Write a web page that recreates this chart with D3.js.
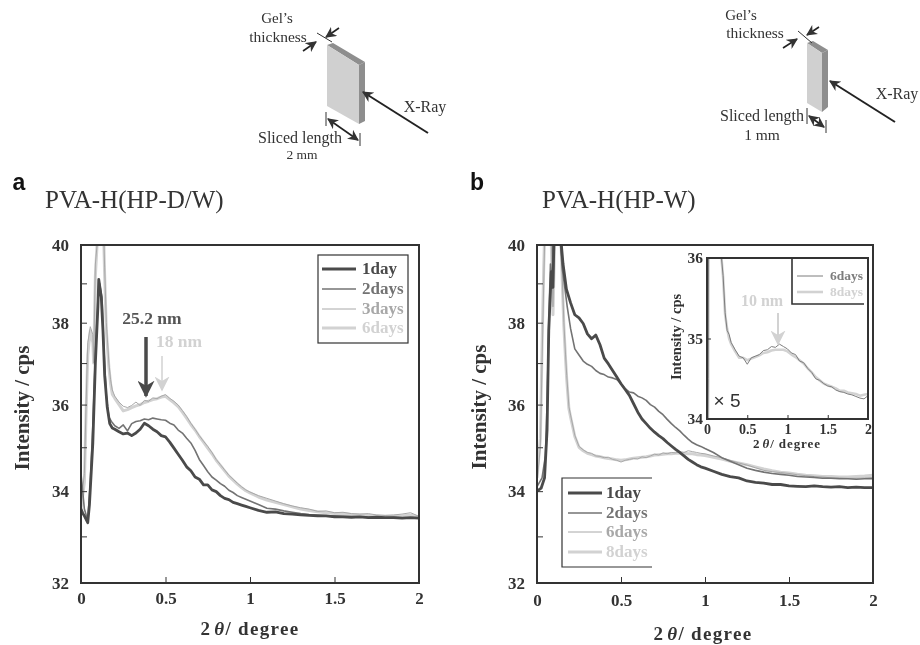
<!DOCTYPE html>
<html lang="en">
  <head>
    <meta charset="utf-8" />
    <title>PVA-H small angle X-ray profiles</title>
    <script src="https://cdnjs.cloudflare.com/ajax/libs/d3/7.8.5/d3.min.js"></script>
    <style type="text/css">
      html, body { margin: 0; background: #fff; }
      svg { display: block; filter: blur(0.45px); }
      text { font-family: "Liberation Serif", serif; }
      text.sans { font-family: "Liberation Sans", sans-serif; }
      .tick text { font-weight: bold; fill: #333; }
      .axis path { display: none; }
      .axis line { stroke: #333; }
      .frame { fill: none; stroke: #333; stroke-width: 2; }
      .curve { fill: none; stroke-linejoin: round; }
    </style>
  </head>

  <body>
    <div id="chart"></div>

    <script>
      // Shared x positions of the slow part of every curve.
      const tailX = [.2, .225, .25, .275, .3, .325, .35, .375, .4, .425, .45, .475, .5, .525, .55, .575, .6, .625, .65, .675, .7, .725, .75, .775, .8, .825, .85, .875, .9, .925, .95, .975, 1,
        1.05, 1.1, 1.15, 1.2, 1.25, 1.3, 1.35, 1.4, 1.45, 1.5, 1.55, 1.6, 1.65, 1.7, 1.75, 1.8, 1.85, 1.9, 1.95, 2];

      // Panel a, values. Head = the spike near zero, above 40 is off the chart.
      const a1dayHeadX = [0, .01, .02, .04, .05, .07, .085, .1, .105, .12, .13, .14, .155, .17, .185];
      const a1dayHeadY = [33.6, 33.51, 33.45, 33.3, 33.7, 35.1, 37, 38.4, 39.1, 38.65, 37.8, 36.7, 35.95, 35.55, 35.45];
      const a1dayTailY = [35.42, 35.36, 35.31, 35.33, 35.27, 35.33, 35.42, 35.56, 35.5, 35.42, 35.36, 35.27, 35.24, 35.12, 34.98, 34.84, 34.7, 34.55, 34.46, 34.32, 34.27, 34.14, 34.14, 34.03, 33.99, 33.9, 33.84, 33.81, 33.75, 33.72, 33.69, 33.66, 33.63,
        33.57, 33.53, 33.54, 33.5, 33.49, 33.47, 33.46, 33.45, 33.45, 33.43, 33.43, 33.42, 33.43, 33.41, 33.42, 33.41, 33.41, 33.4, 33.41, 33.4];

      const a2daysHeadX = [0, .005, .02, .04, .055, .07, .085, .1, .11, .125, .135, .15, .165, .18];
      const a2daysHeadY = [34.4, 34.2, 33.6, 33.35, 34.2, 35.5, 37.2, 38.6, 39, 38.6, 37.4, 36.2, 35.7, 35.6];
      const a2daysTailY = [35.5, 35.44, 35.52, 35.38, 35.55, 35.6, 35.62, 35.66, 35.64, 35.68, 35.66, 35.64, 35.63, 35.56, 35.52, 35.4, 35.33, 35.21, 35.1, 34.93, 34.72, 34.58, 34.44, 34.32, 34.25, 34.17, 34.11, 34.02, 33.97, 33.9, 33.86, 33.82, 33.78,
        33.7, 33.62, 33.6, 33.56, 33.53, 33.5, 33.48, 33.47, 33.45, 33.45, 33.44, 33.43, 33.43, 33.42, 33.42, 33.41, 33.42, 33.41, 33.41, 33.4];

      const a3daysHeadX = [0, .02, .03, .04, .055, .07, .075, .085, .095, .1, .13, .14, .15, .165, .175, .185];
      const a3daysHeadY = [33.7, 34.4, 36, 37.5, 37.9, 37.7, 37, 39.5, 40, 41, 41, 39.4, 38, 37, 36.6, 36.35];
      const a3daysTailY = [36.2, 36.06, 35.96, 35.93, 35.98, 36.06, 35.98, 36.1, 36.08, 36.16, 36.14, 36.2, 36.24, 36.15, 36.08, 35.99, 35.86, 35.72, 35.56, 35.42, 35.27, 35.14, 35.02, 34.88, 34.72, 34.6, 34.48, 34.36, 34.27, 34.18, 34.1, 34.03, 33.98,
        33.9, 33.84, 33.78, 33.72, 33.67, 33.63, 33.6, 33.55, 33.56, 33.52, 33.53, 33.5, 33.49, 33.5, 33.47, 33.46, 33.47, 33.49, 33.52, 33.44];

      const a6daysHeadX = [0, .02, .03, .04, .055, .07, .075, .085, .095, .1, .13, .14, .15, .165, .175, .185];
      const a6daysHeadY = [33.6, 34.2, 35.8, 37.2, 37.8, 37.5, 37, 39.2, 40, 41, 41, 39.2, 37.8, 36.9, 36.5, 36.25];
      const a6daysTailY = [36.15, 36, 35.85, 35.88, 35.93, 35.97, 36, 36.05, 36.08, 36.12, 36.14, 36.18, 36.2, 36.12, 36.04, 35.95, 35.82, 35.68, 35.53, 35.4, 35.25, 35.12, 34.98, 34.85, 34.7, 34.58, 34.46, 34.34, 34.25, 34.16, 34.08, 34.01, 33.96,
        33.87, 33.8, 33.75, 33.7, 33.65, 33.6, 33.57, 33.54, 33.52, 33.5, 33.5, 33.48, 33.47, 33.46, 33.45, 33.44, 33.44, 33.45, 33.47, 33.42];

      // Panel b
      const b1dayHeadX = [0, .025, .045, .06, .07, .085, .095, .105, .13, .145, .155, .175];
      const b1dayHeadY = [34, 34.07, 34.3, 35.4, 37.8, 39.3, 38.9, 41, 41, 40, 39.5, 38.85];
      const b1dayTailY = [38.5, 38.2, 38.12, 37.98, 37.72, 37.6, 37.69, 37.45, 37.12, 36.98, 36.82, 36.66, 36.5, 36.36, 36.22, 36.02, 35.82, 35.66, 35.55, 35.44, 35.35, 35.27, 35.2, 35.11, 35.03, 34.95, 34.88, 34.8, 34.72, 34.66, 34.6, 34.55, 34.52,
        34.45, 34.38, 34.33, 34.3, 34.23, 34.2, 34.18, 34.15, 34.15, 34.12, 34.11, 34.1, 34.12, 34.1, 34.09, 34.1, 34.08, 34.09, 34.08, 34.08];

      const b2daysHeadX = [0, .03, .05, .06, .07, .08, .09, .1, .13, .14, .15, .165, .18];
      const b2daysHeadY = [34.1, 34.3, 34.8, 36, 38, 39.5, 38.9, 41, 41, 40, 39.4, 38.9, 38.4];
      const b2daysTailY = [37.85, 37.35, 37.2, 37.05, 36.97, 36.92, 36.82, 36.75, 36.72, 36.66, 36.64, 36.6, 36.5, 36.38, 36.3, 36.28, 36.2, 36.16, 36.1, 36, 35.94, 35.84, 35.76, 35.65, 35.55, 35.46, 35.38, 35.28, 35.19, 35.11, 35.06, 35.02, 34.97,
        34.88, 34.76, 34.68, 34.6, 34.52, 34.47, 34.43, 34.4, 34.38, 34.36, 34.33, 34.32, 34.31, 34.29, 34.29, 34.28, 34.28, 34.27, 34.28, 34.28];

      const b6daysHeadX = [0, .02, .03, .04, .05, .08, .095, .11, .13, .14, .15, .16, .17, .177, .19];
      const b6daysHeadY = [34.2, 35, 37, 39, 41, 41, 38.4, 41, 41, 40.5, 39.2, 38, 37.2, 36.7, 35.95];
      const b6daysTailY = [35.75, 35.28, 35.02, 34.94, 34.88, 34.86, 34.8, 34.79, 34.76, 34.77, 34.72, 34.7, 34.66, 34.7, 34.72, 34.74, 34.73, 34.78, 34.76, 34.8, 34.84, 34.82, 34.87, 34.85, 34.88, 34.87, 34.9, 34.88, 34.92, 34.9, 34.88, 34.86, 34.85,
        34.8, 34.76, 34.7, 34.64, 34.59, 34.53, 34.47, 34.44, 34.42, 34.4, 34.37, 34.35, 34.33, 34.32, 34.3, 34.3, 34.29, 34.29, 34.3, 34.31];

      const b8daysHeadX = [0, .02, .03, .04, .05, .08, .095, .11, .13, .14, .15, .16, .17, .177, .19];
      const b8daysHeadY = [34.3, 35.2, 37.4, 39.4, 41, 41, 38.2, 41, 41, 40.5, 39.1, 37.9, 37.1, 36.6, 35.9];
      const b8daysTailY = [35.7, 35.25, 35, 34.92, 34.86, 34.83, 34.8, 34.78, 34.76, 34.74, 34.73, 34.71, 34.7, 34.71, 34.73, 34.75, 34.76, 34.77, 34.78, 34.8, 34.82, 34.83, 34.84, 34.85, 34.85, 34.86, 34.86, 34.86, 34.85, 34.85, 34.83, 34.82, 34.81,
        34.77, 34.73, 34.68, 34.64, 34.6, 34.55, 34.5, 34.46, 34.43, 34.41, 34.38, 34.36, 34.35, 34.33, 34.33, 34.32, 34.32, 34.33, 34.34, 34.36];

      // Inset of panel b, above 36 is off the chart
      const insetX = [.012, .016, .02, .16, .18, .2, .225, .25, .275, .3, .35, .4, .45, .5, .55, .6, .65, .7, .75, .8, .85, .9, .95, 1, 1.05, 1.1, 1.15, 1.2, 1.25, 1.3, 1.35, 1.4, 1.45, 1.5, 1.55, 1.6, 1.65, 1.7, 1.75, 1.8, 1.85, 1.9, 1.95, 2];
      const c6daysY = [34, 34.5, 36.5, 36.5, 36, 35.78, 35.32, 35.1, 35.05, 34.95, 34.86, 34.78, 34.76, 34.68, 34.76, 34.78, 34.8, 34.85, 34.86, 34.9, 34.89, 34.93, 34.9, 34.87, 34.82, 34.8, 34.72, 34.7, 34.63, 34.58, 34.5, 34.48, 34.44, 34.41, 34.4, 34.36, 34.34, 34.33, 34.31, 34.3, 34.28, 34.26, 34.25, 34.29];
      const c8daysY = [34, 34.5, 36.5, 36.5, 36, 35.76, 35.3, 35.12, 35, 34.93, 34.84, 34.76, 34.76, 34.73, 34.75, 34.77, 34.79, 34.82, 34.83, 34.85, 34.86, 34.86, 34.86, 34.84, 34.8, 34.77, 34.73, 34.69, 34.63, 34.58, 34.52, 34.48, 34.44, 34.42, 34.4, 34.38, 34.35, 34.35, 34.33, 34.32, 34.31, 34.29, 34.3, 34.31];

      const xTicks = [0, 0.5, 1, 1.5, 2];
      const yLabels = [32, 34, 36, 38, 40];
      const yMinor = [33, 35, 37, 39];
      const insetYTicks = [34, 35, 36];

      const dark = '#4a4a4a', mid = '#737373', light = '#a8a8a8', pale = '#d2d2d2', inset6 = '#7d7d7d';

      const svg = d3.select('#chart').append('svg')
        .attr('width', 920)
        .attr('height', 645);

      const defs = svg.append('defs');

      // Arrow head, coloured per use.
      function head(id, colour, size) {
        defs.append('marker')
          .attr('id', id)
          .attr('viewBox', '0 0 10 10')
          .attr('refX', 9).attr('refY', 5)
          .attr('markerWidth', size).attr('markerHeight', size)
          .attr('markerUnits', 'userSpaceOnUse')
          .attr('orient', 'auto-start-reverse')
          .append('path')
          .attr('d', 'M0,0L10,5L0,10L3,5Z')
          .attr('fill', colour);
      }
      head('h-dark', '#333', 11);
      head('h-big', dark, 17);
      head('h-pale', pale, 15);

      function arrow(x1, y1, x2, y2, colour, width, id, both) {
        const l = svg.append('line')
          .attr('x1', x1).attr('y1', y1).attr('x2', x2).attr('y2', y2)
          .attr('stroke', colour).attr('stroke-width', width)
          .attr('marker-end', `url(#${id})`);
        if (both) l.attr('marker-start', `url(#${id})`);
      }

      function label(x, y, str, size, colour, bold, anchor) {
        return svg.append('text')
          .attr('x', x).attr('y', y)
          .attr('text-anchor', anchor || 'middle')
          .attr('font-size', size)
          .attr('fill', colour)
          .attr('font-weight', bold ? 'bold' : 'normal')
          .text(str);
      }

      // "2θ/ degree" with the italic theta.
      function xTitle(x, y, size) {
        const t = label(x, y, '2', size, '#333', true);
        t.attr('letter-spacing', '0.07em');
        t.append('tspan').attr('font-style', 'italic').attr('dx', '0.15em').text('θ');
        t.append('tspan').text('/ degree');
      }

      function yTitle(x, y, size) {
        label(0, 0, 'Intensity / cps', size, '#333', true)
          .attr('transform', `translate(${x},${y}) rotate(-90)`);
      }

      function plot(box, id, yScale, series) {
        const x = d3.scaleLinear().domain([0, 2]).range([box.left, box.right]);
        defs.append('clipPath').attr('id', id).append('rect')
          .attr('x', box.left).attr('y', box.top)
          .attr('width', box.right - box.left).attr('height', box.bottom - box.top);
        const line = d3.line().x(d => x(d[0])).y(d => yScale(d[1]));
        const g = svg.append('g').attr('clip-path', `url(#${id})`);
        series.forEach(s => {
          g.append('path')
            .datum(d3.zip(s.xs, s.ys))
            .attr('class', 'curve')
            .attr('stroke', s.colour)
            .attr('stroke-width', s.width)
            .attr('d', line);
        });
        return x;
      }

      function frame(box) {
        svg.append('rect').attr('class', 'frame')
          .attr('x', box.left).attr('y', box.top)
          .attr('width', box.right - box.left).attr('height', box.bottom - box.top);
      }

      function mainPanel(box, id, series, tickGap) {
        const y = d3.scaleLog().domain([32, 40]).range([box.bottom, box.top]);
        const x = plot(box, id, y, series);

        svg.append('g')
          .attr('class', 'axis')
          .attr('transform', `translate(0,${box.bottom})`)
          .call(d3.axisBottom(x).tickValues(xTicks).tickFormat(d3.format('~g')).tickSize(-6).tickPadding(tickGap))
          .selectAll('text').attr('font-size', 17);

        svg.append('g')
          .attr('class', 'axis')
          .attr('transform', `translate(${box.left},0)`)
          .call(d3.axisLeft(y).tickValues(yLabels).tickFormat(d3.format('d')).tickSize(-6).tickPadding(12))
          .selectAll('text').attr('font-size', 17);

        svg.append('g')
          .attr('class', 'axis')
          .attr('transform', `translate(${box.left},0)`)
          .call(d3.axisLeft(y).tickValues(yMinor).tickFormat('').tickSize(-6));

        frame(box);
      }

      function legend(x0, x1, xt, rows, size) {
        rows.forEach(r => {
          svg.append('line')
            .attr('x1', x0).attr('x2', x1).attr('y1', r.y).attr('y2', r.y)
            .attr('stroke', r.colour).attr('stroke-width', r.width);
          label(xt, r.y + size * 0.32, r.name, size, r.colour, true, 'start');
        });
      }

      // Panel a
      const boxA = { left: 81, right: 419, top: 245, bottom: 583 };
      mainPanel(boxA, 'clip-a', [
        { xs: a6daysHeadX.concat(tailX), ys: a6daysHeadY.concat(a6daysTailY), colour: pale, width: 3 },
        { xs: a3daysHeadX.concat(tailX), ys: a3daysHeadY.concat(a3daysTailY), colour: light, width: 1 },
        { xs: a2daysHeadX.concat(tailX), ys: a2daysHeadY.concat(a2daysTailY), colour: mid, width: 1.6 },
        { xs: a1dayHeadX.concat(tailX), ys: a1dayHeadY.concat(a1dayTailY), colour: dark, width: 2.8 }
      ], 9);

      svg.append('rect').attr('x', 318).attr('y', 255).attr('width', 90).attr('height', 88)
        .attr('fill', '#fff').attr('stroke', '#333').attr('stroke-width', 1.2);
      legend(322, 356, 362, [
        { y: 269, name: '1day', colour: dark, width: 2.8 },
        { y: 289, name: '2days', colour: mid, width: 1.6 },
        { y: 309, name: '3days', colour: light, width: 1 },
        { y: 328, name: '6days', colour: pale, width: 3 }
      ], 17);

      label(152, 324, '25.2 nm', 17.5, '#555', true);
      label(179, 347, '18 nm', 17.5, pale, true);
      arrow(146, 337, 146, 396, dark, 3.5, 'h-big');
      arrow(162, 356, 162, 390, pale, 1.5, 'h-pale');

      yTitle(29, 408, 21);
      xTitle(250, 635, 19);

      // Panel b
      const boxB = { left: 537, right: 873, top: 245, bottom: 583 };
      mainPanel(boxB, 'clip-b', [
        { xs: b8daysHeadX.concat(tailX), ys: b8daysHeadY.concat(b8daysTailY), colour: pale, width: 3 },
        { xs: b6daysHeadX.concat(tailX), ys: b6daysHeadY.concat(b6daysTailY), colour: light, width: 1 },
        { xs: b2daysHeadX.concat(tailX), ys: b2daysHeadY.concat(b2daysTailY), colour: mid, width: 1.6 },
        { xs: b1dayHeadX.concat(tailX), ys: b1dayHeadY.concat(b1dayTailY), colour: dark, width: 2.8 }
      ], 11);

      svg.append('path')
        .attr('d', 'M652,478H562V567H652')
        .attr('fill', 'none').attr('stroke', '#333').attr('stroke-width', 1.2);
      legend(568, 602, 606, [
        { y: 493, name: '1day', colour: dark, width: 2.8 },
        { y: 513, name: '2days', colour: mid, width: 1.6 },
        { y: 532, name: '6days', colour: light, width: 1 },
        { y: 552, name: '8days', colour: pale, width: 3 }
      ], 17);

      yTitle(486, 407, 21);
      xTitle(703, 640, 19);

      // Inset of panel b
      const boxC = { left: 707, right: 868, top: 258, bottom: 419 };
      const yInset = d3.scaleLinear().domain([34, 36]).range([boxC.bottom, boxC.top]);
      const xInset = plot(boxC, 'clip-c', yInset, [
        { xs: insetX, ys: c8daysY, colour: pale, width: 2.6 },
        { xs: insetX, ys: c6daysY, colour: inset6, width: 1 }
      ]);
      svg.append('g')
        .attr('class', 'axis')
        .attr('transform', `translate(0,${boxC.bottom})`)
        .call(d3.axisBottom(xInset).tickValues(xTicks).tickFormat(d3.format('~g')).tickSize(-4).tickPadding(5))
        .selectAll('text').attr('font-size', 14);
      svg.append('g')
        .attr('class', 'axis')
        .attr('transform', `translate(${boxC.left},0)`)
        .call(d3.axisLeft(yInset).tickValues(insetYTicks).tickFormat(d3.format('d')).tickSize(-4).tickPadding(4))
        .selectAll('text').attr('font-size', 15.5);
      frame(boxC);

      svg.append('path')
        .attr('d', 'M792,258V304H864')
        .attr('fill', 'none').attr('stroke', '#333').attr('stroke-width', 1.6);
      legend(797, 823, 830, [
        { y: 276, name: '6days', colour: inset6, width: 1 },
        { y: 292, name: '8days', colour: pale, width: 2.6 }
      ], 13.5);

      label(762, 306, '10 nm', 16, pale, true);
      arrow(778, 313, 778, 344, pale, 2, 'h-pale');
      label(727, 407, '× 5', 19, '#333', false).attr('class', 'sans');
      yTitle(681, 337, 14.5);
      xTitle(787, 448, 13);

      // Gel sketches
      function poly(points, fill) {
        svg.append('polygon').attr('points', points).attr('fill', fill);
      }

      poly('327,45 333,43 365,62 359,65', '#8e8e8e');
      poly('327,45 359,65 359,124 327,106', '#d0d0d0');
      poly('359,65 365,62 365,121 359,124', '#8e8e8e');
      arrow(428, 133, 363, 92, '#222', 2, 'h-dark');
      label(425, 112, 'X-Ray', 16, '#333');
      label(277, 23, 'Gel’s', 15, '#333');
      label(278, 42, 'thickness', 15.5, '#333');
      svg.append('line').attr('x1', 317).attr('y1', 33).attr('x2', 332).attr('y2', 42).attr('stroke', '#333');
      arrow(339, 28, 326, 37, '#222', 1.6, 'h-dark');
      arrow(303, 51, 316, 42, '#222', 1.6, 'h-dark');
      svg.append('line').attr('x1', 326).attr('y1', 112).attr('x2', 326).attr('y2', 126).attr('stroke', '#333');
      svg.append('line').attr('x1', 360).attr('y1', 133).attr('x2', 360).attr('y2', 146).attr('stroke', '#333');
      arrow(328, 119, 358, 140, '#222', 1.6, 'h-dark', true);
      label(300, 143, 'Sliced length', 16, '#333');
      label(302, 159, '2 mm', 13.5, '#333');

      poly('807,43 813,41 828,50 822,53', '#8e8e8e');
      poly('807,43 822,53 822,112 807,103', '#d0d0d0');
      poly('822,53 828,50 828,107 822,112', '#8e8e8e');
      arrow(895, 122, 830, 81, '#222', 2, 'h-dark');
      label(897, 99, 'X-Ray', 16, '#333');
      label(741, 20, 'Gel’s', 15, '#333');
      label(755, 38, 'thickness', 15.5, '#333');
      svg.append('line').attr('x1', 798).attr('y1', 31).attr('x2', 812).attr('y2', 43).attr('stroke', '#333');
      arrow(819, 27, 807, 35, '#222', 1.6, 'h-dark');
      arrow(783, 48, 797, 39, '#222', 1.6, 'h-dark');
      svg.append('line').attr('x1', 807).attr('y1', 108).attr('x2', 807).attr('y2', 124).attr('stroke', '#333');
      svg.append('line').attr('x1', 826).attr('y1', 120).attr('x2', 826).attr('y2', 133).attr('stroke', '#333');
      arrow(809, 116, 824, 127, '#222', 1.6, 'h-dark', true);
      label(762, 121, 'Sliced length', 16, '#333');
      label(762, 140, '1 mm', 15.5, '#333');

      // Panel letters and titles
      label(19, 190, 'a', 23, '#111', true).attr('class', 'sans');
      label(477, 190, 'b', 23, '#111', true).attr('class', 'sans');
      label(45, 208, 'PVA-H(HP-D/W)', 25, '#333', false, 'start');
      label(542, 208, 'PVA-H(HP-W)', 25, '#333', false, 'start');
    </script>
  </body>
</html>
